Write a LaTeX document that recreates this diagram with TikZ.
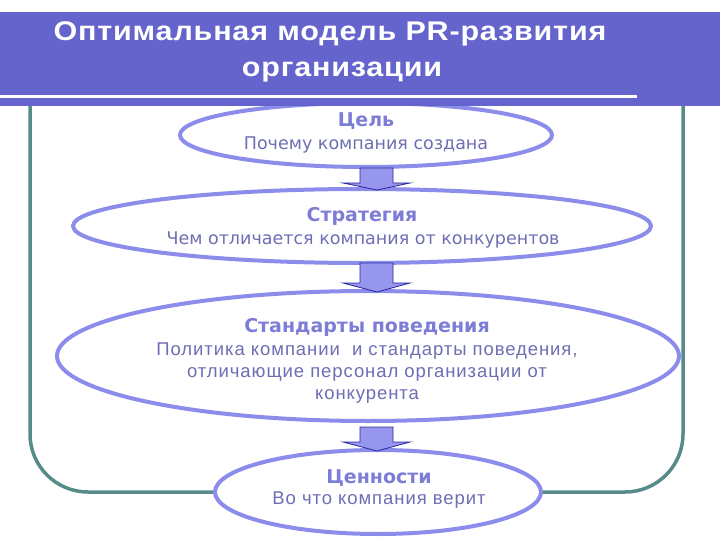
\documentclass[tikz,border=0pt]{standalone}
\usepackage{fontspec}
\setmainfont{DejaVu Sans}
\newfontfamily\titlefont{Liberation Sans}[FakeStretch=1.13, LetterSpace=3]
\newfontfamily\narrowfont{Liberation Sans}[LetterSpace=5]
\usetikzlibrary{shapes.geometric}
\definecolor{band}{RGB}{100,100,204}
\definecolor{ring}{RGB}{140,140,235}
\definecolor{framec}{RGB}{85,140,135}
\definecolor{headc}{RGB}{125,125,215}
\definecolor{bodyc}{RGB}{110,110,180}
\definecolor{arrfill}{RGB}{150,150,238}
\definecolor{arredge}{RGB}{40,40,160}
\tikzset{
  oval/.style={ellipse, draw=ring, line width=4pt, fill=white, inner sep=0pt},
  headtxt/.style={font=\fontsize{19}{22}\selectfont\bfseries, text=headc, inner sep=0pt},
  bodytxt/.style={font=\fontsize{17.5}{21}\selectfont, text=bodyc, inner sep=0pt},
  narrowtxt/.style={font=\narrowfont\fontsize{18.5}{22}\selectfont, text=bodyc, inner sep=0pt, align=center},
  titletxt/.style={font=\titlefont\fontsize{27}{32}\selectfont\bfseries, text=white, inner sep=0pt},
  blockarrow/.style={fill=arrfill, draw=arredge, line width=0.8pt, line join=miter}
}
\begin{document}
\begin{tikzpicture}[x=1pt,y=-1pt]
\useasboundingbox (0,0) rectangle (720,540);
\fill[white] (0,0) rectangle (720,540);
% frame
\draw[framec, line width=3.5pt, rounded corners=58pt] (30,80) -- (30,492) -- (683,492) -- (683,80);
% ovals
\node[oval, minimum width=372pt, minimum height=64pt] (e1) at (366,135) {};
\node[oval, minimum width=578pt, minimum height=74pt] (e2) at (362,226) {};
\node[oval, minimum width=622pt, minimum height=130pt] (e3) at (368,356) {};
\node[oval, minimum width=326pt, minimum height=84pt] (e4) at (378,492) {};
% title band
\fill[band] (0,12) rectangle (720,106);
\draw[white, line width=3pt] (0,96.5) -- (637,96.5);
\node[titletxt] (t1) at (330,34) {Оптимальная модель PR-развития};
\node[titletxt] (t2) at (342,72) {организации};
% texts
\node[headtxt] (h1) at (366,121) {Цель};
\node[bodytxt] (b1) at (366,145) {Почему компания создана};
\node[headtxt] (h2) at (362,216) {Стратегия};
\node[bodytxt] (b2) at (363,240) {Чем отличается компания от конкурентов};
\node[headtxt] (h3) at (367,327) {Стандарты поведения};
\node[narrowtxt] (b3) at (367,373) {Политика компании \ и стандарты поведения,\\отличающие персонал организации от\\конкурента};
\node[headtxt] (h4) at (379,478) {Ценности};
\node[narrowtxt] (b4) at (379,500) {Во что компания верит};
% arrows
\draw[blockarrow] (360,168) -- (393,168) -- (393,183) -- (410,183) -- (377,190) -- (343,183) -- (360,183) -- cycle;
\draw[blockarrow] (360,263) -- (393,263) -- (393,283) -- (410,283) -- (377,292) -- (343,283) -- (360,283) -- cycle;
\draw[blockarrow] (360,427) -- (393,427) -- (393,442) -- (410,442) -- (377,451) -- (343,442) -- (360,442) -- cycle;
\end{tikzpicture}
\end{document}
